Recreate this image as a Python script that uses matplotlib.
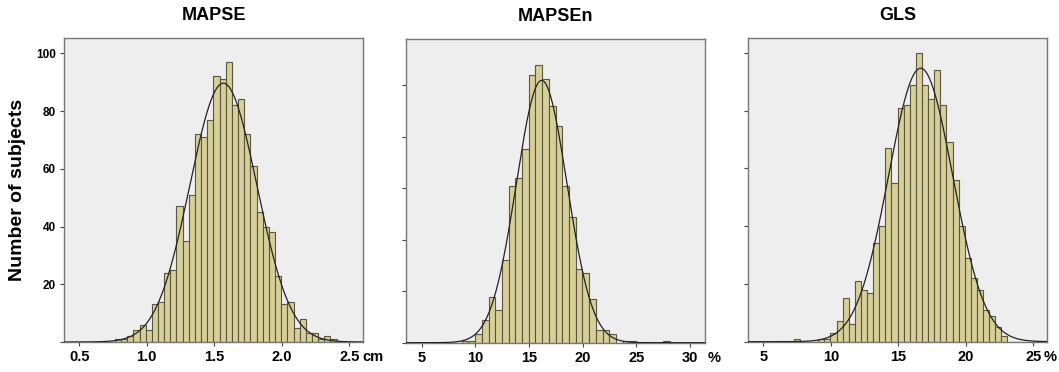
import numpy as np
import matplotlib
matplotlib.use("Agg")
import matplotlib.pyplot as plt

plt.rcParams['font.family'] = ['Liberation Sans', 'DejaVu Sans']

# counts per bin
mapse_counts = [1, 1, 2, 4, 6, 4, 13, 14, 24, 25, 47, 35, 51, 72, 71, 77, 92, 91,
                97, 82, 84, 72, 61, 45, 40, 38, 23, 13, 14, 5, 8, 3, 3, 1, 2, 1]
mapse_start, mapse_width = 0.764, 0.0456
mapse_mean, mapse_sd = 1.567, 0.248

mapsen_counts = [1, 1, 4, 11, 22, 16, 40, 76, 80, 94, 130, 135, 128, 115, 105, 76,
                 61, 36, 34, 21, 6, 6, 4, 0, 1, 1, 0, 0, 0, 0, 1]
mapsen_start, mapsen_width = 8.73, 0.625
mapsen_mean, mapsen_sd = 16.18, 2.36

gls_counts = [1, 0, 0, 0, 1, 1, 3, 7, 15, 6, 21, 18, 17, 34, 40, 67, 55, 81, 82, 89,
              100, 89, 84, 94, 82, 69, 56, 40, 29, 22, 18, 11, 9, 5, 2]
gls_start, gls_width = 7.26, 0.4524
gls_mean, gls_sd = 16.66, 2.38

titles = ["MAPSE", "MAPSEn", "GLS"]
units = ["cm", "%", "%"]
unit_offset = [9.6, 13.0, 7.2]  # points right of the last tick
xticks = [[0.5, 1.0, 1.5, 2.0, 2.5], [5, 10, 15, 20, 25, 30], [5, 10, 15, 20, 25]]
xtick_labels = [["0.5", "1.0", "1.5", "2.0", "2.5"],
                ["5", "10", "15", "20", "25", "30"],
                ["5", "10", "15", "20", "25"]]
yticks = [[0, 20, 40, 60, 80, 100], [0, 25, 50, 75, 100, 125], [0, 20, 40, 60, 80, 100]]
xlims = [(0.387, 2.601), (3.54, 31.4), (3.89, 26.0)]
ylims = [105.3, 147.4, 105.0]

data = [(mapse_counts, mapse_start, mapse_width, mapse_mean, mapse_sd),
        (mapsen_counts, mapsen_start, mapsen_width, mapsen_mean, mapsen_sd),
        (gls_counts, gls_start, gls_width, gls_mean, gls_sd)]

W, H = 1059, 372
fig = plt.figure(figsize=(W / 100, H / 100), dpi=100)
boxes = [(64, 363, 38, 342), (406, 705, 39, 342.7), (748.3, 1046.7, 38.3, 341.7)]

bar_col = '#d6cf98'
edge_col = '#5a5640'
tick_len, tick_pad = 3, 3

for i, (l, r, t, b) in enumerate(boxes):
    ax = fig.add_axes([l / W, (H - b) / H, (r - l) / W, (b - t) / H])
    counts, start, width, mu, sd = data[i]
    counts = np.array(counts)
    lefts = start + width * np.arange(len(counts))
    ax.bar(lefts, counts, width=width, align='edge', color=bar_col,
           edgecolor=edge_col, linewidth=0.8, zorder=2)

    # fitted normal curve
    xs = np.linspace(xlims[i][0], xlims[i][1], 400)
    n = counts.sum()
    ys = n * width / (sd * np.sqrt(2 * np.pi)) * np.exp(-0.5 * ((xs - mu) / sd) ** 2)
    ax.plot(xs, ys, color='#222222', lw=0.9, zorder=3)

    ax.set_facecolor('#eeeeee')
    ax.set_xlim(*xlims[i])
    ax.set_ylim(0, ylims[i])
    for s in ax.spines.values():
        s.set_color('#777777')
        s.set_linewidth(1.0)
    ax.set_xticks(xticks[i])
    ax.set_xticklabels(xtick_labels[i], fontsize=10.5, fontweight='bold')
    ax.set_yticks(yticks[i])
    ax.tick_params(axis='both', length=tick_len, width=0.8, color='#444444', pad=tick_pad)
    if i == 0:
        ax.set_yticklabels(["", "20", "40", "60", "80", "100"], fontsize=8.5, fontweight='bold')
        ax.set_ylabel("Number of subjects", fontsize=14, fontweight='bold', labelpad=7)
    else:
        ax.set_yticklabels([])
    ax.set_title(titles[i], fontsize=13, fontweight='bold', pad=13)
    # unit text next to the last x tick label
    ax.annotate(units[i], xy=(xticks[i][-1], 0), xycoords=('data', 'axes fraction'),
                xytext=(unit_offset[i], -(tick_len + tick_pad)), textcoords='offset points',
                ha='left', va='top', fontsize=10.5, fontweight='bold', annotation_clip=False)

fig.savefig("out.png", dpi=100)
